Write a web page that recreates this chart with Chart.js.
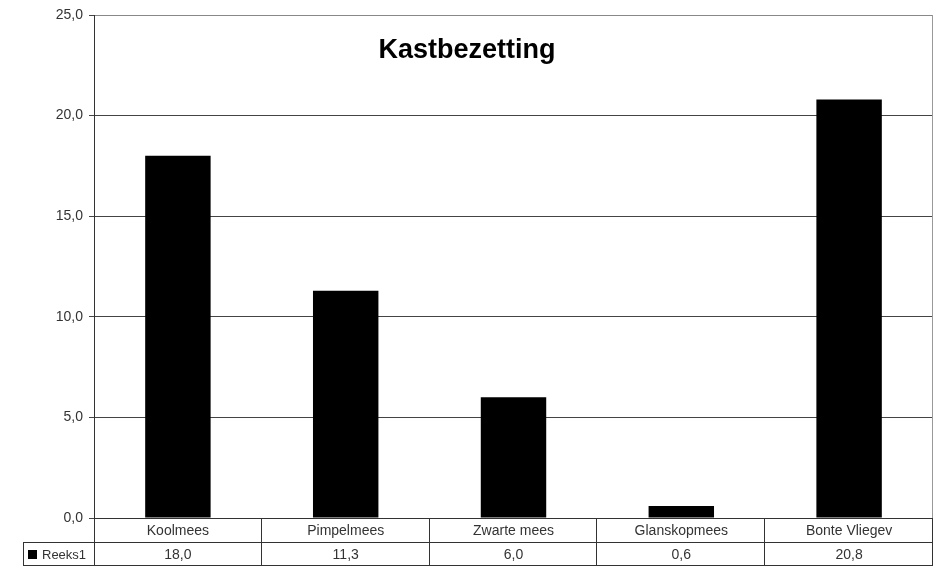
<!DOCTYPE html>
<html>
<head>
<meta charset="utf-8">
<script src="https://cdn.jsdelivr.net/npm/chart.js@4"></script>
<style>
  html, body { margin: 0; padding: 0; background: #fff; }
  #wrap { width: 939px; height: 568px; }
</style>
</head>
<body>
<div id="wrap"><canvas id="kast"></canvas></div>
<script>
var soorten = ["Koolmees", "Pimpelmees", "Zwarte mees", "Glanskopmees", "Bonte Vliegev"];
var reeks1 = [18.0, 11.3, 6.0, 0.6, 20.8];
var reeksNaam = "Reeks1";
var titel = "Kastbezetting";

function fmt(v) { return v.toFixed(1).replace(".", ","); }

// title inside the plot + data table under it
var tabelPlugin = {
  id: "tabel",
  afterDraw: function (chart) {
    var ctx = chart.ctx;
    var area = chart.chartArea;
    var x = chart.scales.x;
    var rij = 24, rij2 = 24;
    var y0 = area.bottom, y1 = y0 + rij, y2 = y1 + rij2;
    var legL = 23;
    ctx.save();

    ctx.fillStyle = "#000";
    ctx.font = "bold 27px 'Liberation Sans', Arial, sans-serif";
    ctx.textAlign = "center";
    ctx.textBaseline = "alphabetic";
    ctx.fillText(titel, 467, 58);

    // right edge of the plot area
    ctx.strokeStyle = "#999";
    ctx.lineWidth = 1;
    ctx.beginPath();
    ctx.moveTo(area.right - 0.5, area.top); ctx.lineTo(area.right - 0.5, y0);
    ctx.stroke();

    ctx.strokeStyle = "#333";
    ctx.beginPath();
    ctx.moveTo(area.left, y0 + 0.5); ctx.lineTo(area.right, y0 + 0.5);
    ctx.moveTo(legL, y1 + 0.5); ctx.lineTo(area.right, y1 + 0.5);
    ctx.moveTo(legL, y2 - 0.5); ctx.lineTo(area.right, y2 - 0.5);
    ctx.moveTo(legL + 0.5, y1); ctx.lineTo(legL + 0.5, y2);
    ctx.moveTo(area.left + 0.5, y0); ctx.lineTo(area.left + 0.5, y2);
    var step = (area.right - area.left) / soorten.length;
    for (var i = 1; i <= soorten.length; i++) {
      var bx = Math.round(area.left + step * i) - 0.5;
      ctx.moveTo(bx, y0); ctx.lineTo(bx, y2);
    }
    ctx.stroke();

    ctx.textBaseline = "middle";
    ctx.font = "14px 'Liberation Sans', Arial, sans-serif";
    ctx.fillStyle = "#333";
    soorten.forEach(function (s, i) {
      var cx = x.getPixelForValue(i);
      ctx.fillText(s, cx, y0 + rij / 2 + 1);
      ctx.fillText(fmt(reeks1[i]), cx, y1 + rij2 / 2 + 1);
    });

    ctx.fillStyle = "#000";
    ctx.fillRect(legL + 5, y1 + rij2 / 2 - 4, 9, 9);
    ctx.fillStyle = "#333";
    ctx.textAlign = "left";
    ctx.font = "13px 'Liberation Sans', Arial, sans-serif";
    ctx.fillText(reeksNaam, legL + 19, y1 + rij2 / 2 + 1);
    ctx.restore();
  }
};

new Chart(document.getElementById("kast"), {
  type: "bar",
  data: {
    labels: soorten,
    datasets: [{
      label: reeksNaam,
      data: reeks1,
      backgroundColor: "#000",
      borderWidth: 0,
      categoryPercentage: 1,
      barPercentage: 0.39
    }]
  },
  options: {
    responsive: true,
    maintainAspectRatio: false,
    animation: false,
    layout: { padding: { top: 15, right: 6, bottom: 50, left: 0 } },
    plugins: { legend: { display: false }, tooltip: { enabled: false } },
    scales: {
      x: { display: false },
      y: {
        min: 0, max: 25,
        afterFit: function (s) { s.width = 94; },
        ticks: {
          stepSize: 5,
          padding: 6,
          color: "#333",
          font: { family: "'Liberation Sans', Arial, sans-serif", size: 14 },
          callback: function (v) { return fmt(v); }
        },
        grid: {
          color: function (c) { return c.tick && c.tick.value === 25 ? "#888" : "#444"; },
          tickLength: 5,
          tickColor: "#444"
        },
        border: { color: "#333" }
      }
    }
  },
  plugins: [tabelPlugin]
});
</script>
</body>
</html>
